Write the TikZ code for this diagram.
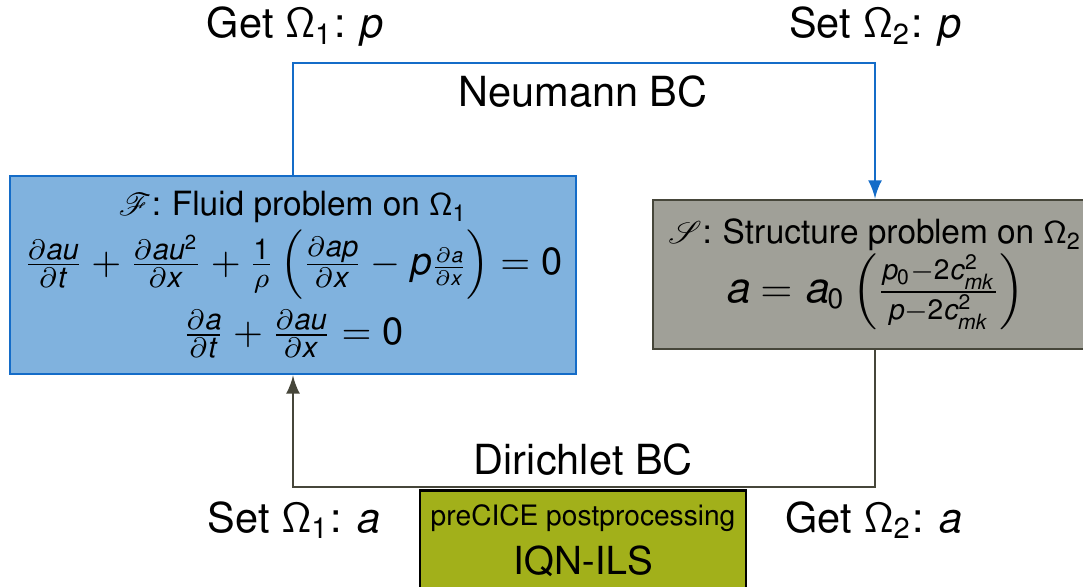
\documentclass[tikz,border=0pt]{standalone}
\usepackage[T1]{fontenc}
\usepackage{helvet}
\renewcommand{\familydefault}{\sfdefault}
\usepackage{amsmath}
\usepackage[helvet]{sfmath}
\usepackage{mathrsfs}
\DeclareSymbolFont{cmops}{OT1}{cmr}{m}{n}
\DeclareMathSymbol{+}{\mathbin}{cmops}{"2B}
\DeclareMathSymbol{=}{\mathrel}{cmops}{"3D}
\DeclareMathSizes{10.8}{10.8}{8.2}{5.8}
\usepackage{tikz}
\usetikzlibrary{positioning}
\definecolor{fluidfill}{RGB}{128,178,222}
\definecolor{fluidline}{RGB}{20,108,200}
\definecolor{structfill}{RGB}{160,160,152}
\definecolor{structline}{RGB}{70,70,58}
\definecolor{postfill}{RGB}{162,176,26}
\tikzset{every picture/.style={line width=0.8pt},
  box/.style={draw,rectangle,align=center,inner sep=2pt},
  lbl/.style={font=\fontsize{11.8}{14}\selectfont}}

\begin{document}
\begin{tikzpicture}
\useasboundingbox (0,0) rectangle (10.83,5.86);
\node[box,fill=fluidfill,draw=fluidline,minimum width=5.66cm,minimum height=1.98cm] (fluid) at (2.93,3.11)
  {\fontsize{9.5}{11}\selectfont $\mathscr{F}$: Fluid problem on $\Omega_1$\\[1pt]
   \fontsize{10.8}{12}\selectfont $\frac{\partial au}{\partial t}+\frac{\partial au^2}{\partial x}+\frac{1}{\rho}\left(\frac{\partial ap}{\partial x}-p{\scriptstyle\frac{\partial a}{\partial x}}\right)=0$\\[2pt]
   \fontsize{10.8}{12}\selectfont $\frac{\partial a}{\partial t}+\frac{\partial au}{\partial x}=0$};
\node[box,fill=structfill,draw=structline,minimum width=4.44cm,minimum height=1.49cm] (struct) at (8.75,3.115)
  {\fontsize{9.5}{11}\selectfont $\mathscr{S}$: Structure problem on $\Omega_2$\\
   \fontsize{12}{14}\selectfont $a=a_0\left(\frac{p_0-2c_{mk}^2}{p-2c_{mk}^2}\right)$};
\node[box,fill=postfill,draw=black,anchor=north,minimum width=3.26cm,inner xsep=1pt,inner ysep=4pt] (post) at (5.83,0.97)
  {\fontsize{8}{10}\selectfont preCICE postprocessing\\[2pt]
   \fontsize{11}{13}\selectfont IQN-ILS};
% labels
\node[lbl] (getp) at (2.95,5.59) {Get $\Omega_1$: $p$};
\node[lbl] (setp) at (8.75,5.59) {Set $\Omega_2$: $p$};
\node[lbl] (neumann) at (5.83,4.94) {Neumann BC};
\node[lbl] (dirichlet) at (5.83,1.26) {Dirichlet BC};
\node[lbl] (seta) at (2.93,0.66) {Set $\Omega_1$: $a$};
\node[lbl] (geta) at (8.73,0.66) {Get $\Omega_2$: $a$};
% couplings
\coordinate (ntop) at (5.83,5.23);
\coordinate (dbot) at (5.83,0.99);
\draw[-latex,fluidline] (fluid.north) |- (ntop) -| (struct.north);
\draw[-latex,structline] (struct.south) |- (dbot) -| (fluid.south);
\end{tikzpicture}
\end{document}
